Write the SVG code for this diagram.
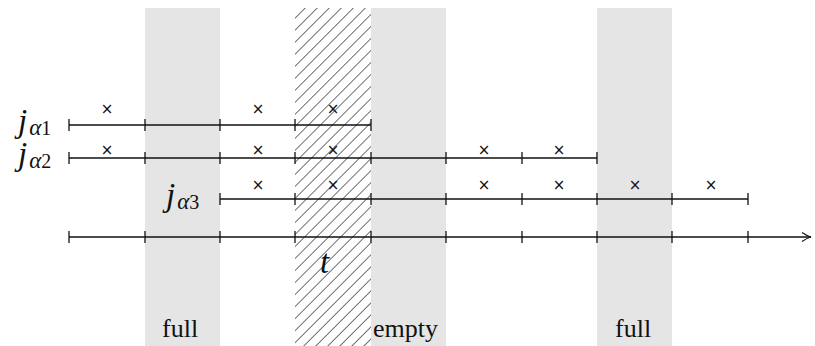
<svg xmlns="http://www.w3.org/2000/svg" width="815" height="346" viewBox="0 0 815 346">
<style>
.band{fill:#e5e5e5}
.ln{stroke:#111;stroke-width:1.3;fill:none}
.tk{stroke:#111;stroke-width:1.3}
.x{font-family:"DejaVu Sans",sans-serif;font-size:15px;fill:#111;text-anchor:middle}
.lbl{font-family:"Liberation Serif",serif;font-size:26px;fill:#111}
.j{font-family:"Liberation Serif",serif;font-style:italic;font-size:33px;fill:#111}
.sub{font-family:"Liberation Serif",serif;font-style:italic;font-size:23px}
.num{font-style:normal;font-size:20px}
</style>
<defs>
<pattern id="hatch" patternUnits="userSpaceOnUse" width="8.5" height="8.5" patternTransform="rotate(45)">
<line x1="0" y1="0" x2="0" y2="8.5" stroke="#222" stroke-width="1.3"/>
</pattern>
<marker id="arr" markerWidth="12" markerHeight="12" refX="10" refY="6" orient="auto" markerUnits="userSpaceOnUse">
<path d="M1,1.5 Q6,5 10,6 Q6,7 1,10.5" fill="none" stroke="#111" stroke-width="1.2"/>
</marker>
</defs>
<g id="bands">
<rect class="band" x="145" y="8" width="75" height="338"/>
<rect class="band" x="371" y="8" width="75" height="338"/>
<rect class="band" x="597" y="8" width="75" height="338"/>
<rect x="295" y="8" width="76" height="338" fill="url(#hatch)"/>
</g>
<g id="connectors">
<line class="ln" x1="69" y1="125" x2="371" y2="125"/>
<line class="ln" x1="69" y1="158" x2="597" y2="158"/>
<line class="ln" x1="220" y1="199" x2="748" y2="199"/>
<line class="ln" x1="69" y1="237" x2="811" y2="237" marker-end="url(#arr)"/>
<g class="tk">
<line x1="69" y1="119" x2="69" y2="131"/><line x1="145" y1="119" x2="145" y2="131"/><line x1="220" y1="119" x2="220" y2="131"/><line x1="295" y1="119" x2="295" y2="131"/><line x1="371" y1="119" x2="371" y2="131"/>
<line x1="69" y1="152" x2="69" y2="164"/><line x1="145" y1="152" x2="145" y2="164"/><line x1="220" y1="152" x2="220" y2="164"/><line x1="295" y1="152" x2="295" y2="164"/><line x1="371" y1="152" x2="371" y2="164"/><line x1="446" y1="152" x2="446" y2="164"/><line x1="522" y1="152" x2="522" y2="164"/><line x1="597" y1="152" x2="597" y2="164"/>
<line x1="220" y1="193" x2="220" y2="205"/><line x1="295" y1="193" x2="295" y2="205"/><line x1="371" y1="193" x2="371" y2="205"/><line x1="446" y1="193" x2="446" y2="205"/><line x1="522" y1="193" x2="522" y2="205"/><line x1="597" y1="193" x2="597" y2="205"/><line x1="672" y1="193" x2="672" y2="205"/><line x1="748" y1="193" x2="748" y2="205"/>
<line x1="69" y1="231" x2="69" y2="243"/><line x1="145" y1="231" x2="145" y2="243"/><line x1="220" y1="231" x2="220" y2="243"/><line x1="295" y1="231" x2="295" y2="243"/><line x1="371" y1="231" x2="371" y2="243"/><line x1="446" y1="231" x2="446" y2="243"/><line x1="522" y1="231" x2="522" y2="243"/><line x1="597" y1="231" x2="597" y2="243"/><line x1="672" y1="231" x2="672" y2="243"/><line x1="748" y1="231" x2="748" y2="243"/>
</g>
</g>
<g id="marks">
<text class="x" x="107" y="114">×</text><text class="x" x="258" y="114">×</text><text class="x" x="333" y="114">×</text>
<text class="x" x="107" y="155">×</text><text class="x" x="258" y="155">×</text><text class="x" x="333" y="155">×</text><text class="x" x="484" y="155">×</text><text class="x" x="559" y="155">×</text>
<text class="x" x="258" y="190">×</text><text class="x" x="333" y="190">×</text><text class="x" x="484" y="190">×</text><text class="x" x="559" y="190">×</text><text class="x" x="635" y="190">×</text><text class="x" x="711" y="190">×</text>
</g>
<g id="labels">
<text class="j" x="18" y="132">j<tspan class="sub" dx="2" dy="3">α<tspan class="num">1</tspan></tspan></text>
<text class="j" x="18" y="165">j<tspan class="sub" dx="2" dy="3">α<tspan class="num">2</tspan></tspan></text>
<text class="j" x="166" y="206">j<tspan class="sub" dx="2" dy="3">α<tspan class="num">3</tspan></tspan></text>
<text class="j" x="320" y="273">t</text>
<text class="lbl" x="162" y="337">full</text>
<text class="lbl" x="373" y="337">empty</text>
<text class="lbl" x="615" y="337">full</text>
</g>
</svg>
